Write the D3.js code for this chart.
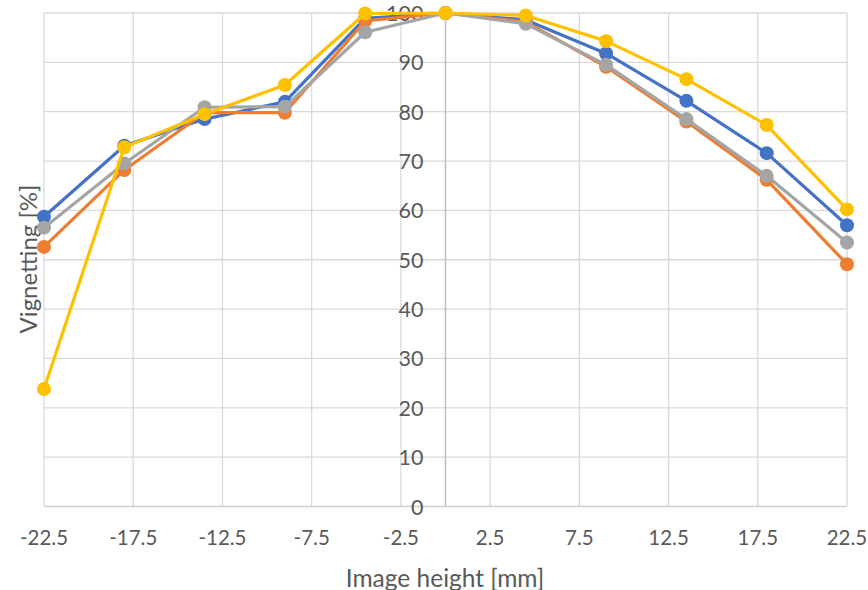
<!DOCTYPE html>
<html>
<head>
<meta charset="utf-8">
<script src="https://cdn.jsdelivr.net/npm/d3@7"></script>
<style>
  html, body { margin: 0; padding: 0; background: #fff; }
  svg { display: block; font-family: Lato, "Open Sans", sans-serif; }
</style>
</head>
<body>
<svg id="chart" width="868" height="590"></svg>
<script>
// Image height positions (mm)
const imageHeight = [-22.5, -18, -13.5, -9, -4.5, 0, 4.5, 9, 13.5, 18, 22.5];

// Vignetting (%) per series
const seriesBlue   = [58.7, 73.1, 78.5, 82.0, 98.9, 100, 98.6, 91.8, 82.2, 71.6, 57.0];
const seriesOrange = [52.6, 68.2, 79.8, 79.8, 98.4, 100, 98.2, 89.1, 78.0, 66.2, 49.1];
const seriesGray   = [56.5, 69.5, 80.9, 81.0, 96.1, 100, 97.8, 89.5, 78.5, 67.0, 53.5];
const seriesYellow = [23.8, 72.8, 79.5, 85.4, 99.9, 100, 99.5, 94.3, 86.6, 77.3, 60.2];

const seriesColors = ["#4472C4", "#ED7D31", "#A5A5A5", "#FFC000"];

// Axis ticks
const xTicks = [-22.5, -17.5, -12.5, -7.5, -2.5, 2.5, 7.5, 12.5, 17.5, 22.5];
const yTicks = [0, 10, 20, 30, 40, 50, 60, 70, 80, 90, 100];

const svg = d3.select("#chart");

const x = d3.scaleLinear().domain([-22.5, 22.5]).range([44, 847]);
const y = d3.scaleLinear().domain([0, 100]).range([506.5, 13]);

const grid = svg.append("g");

// horizontal gridlines
grid.selectAll("line.h").data(yTicks.filter(d => d > 0)).join("line")
  .attr("x1", x(-22.5)).attr("x2", x(22.5))
  .attr("y1", d => y(d)).attr("y2", d => y(d))
  .attr("stroke", "#D9D9D9").attr("stroke-width", 1.3);

// vertical gridlines
grid.selectAll("line.v").data(xTicks).join("line")
  .attr("x1", d => x(d)).attr("x2", d => x(d))
  .attr("y1", y(100)).attr("y2", y(0))
  .attr("stroke", "#D9D9D9").attr("stroke-width", 1.3);

// horizontal axis line
grid.append("line")
  .attr("x1", x(-22.5)).attr("x2", x(22.5))
  .attr("y1", y(0)).attr("y2", y(0))
  .attr("stroke", "#D0D0D0").attr("stroke-width", 1.5);

// vertical axis crossing at 0
grid.append("line")
  .attr("x1", x(0)).attr("x2", x(0))
  .attr("y1", y(100)).attr("y2", y(0))
  .attr("stroke", "#BFBFBF").attr("stroke-width", 1.5);

// x tick labels
svg.append("g").selectAll("text").data(xTicks).join("text")
  .attr("x", d => x(d)).attr("y", 537)
  .attr("text-anchor", "middle").attr("dominant-baseline", "central")
  .attr("fill", "#595959").attr("font-size", 20.5)
  .text(d => d);

// y tick labels, placed beside the axis at x = 0
svg.append("g").selectAll("text").data(yTicks).join("text")
  .attr("x", x(0) - 22).attr("y", d => y(d))
  .attr("text-anchor", "end").attr("dominant-baseline", "central")
  .attr("fill", "#595959").attr("font-size", 21.5)
  .text(d => d);

// axis titles
svg.append("text")
  .attr("x", 445).attr("y", 577)
  .attr("text-anchor", "middle").attr("dominant-baseline", "central")
  .attr("fill", "#595959").attr("font-size", 24.5)
  .text("Image height [mm]");

svg.append("text")
  .attr("transform", "translate(27,259) rotate(-90)")
  .attr("text-anchor", "middle").attr("dominant-baseline", "central")
  .attr("fill", "#595959").attr("font-size", 24)
  .text("Vignetting [%]");

// series lines and markers
const allSeries = [seriesBlue, seriesOrange, seriesGray, seriesYellow];
const line = d3.line().x((d, i) => x(imageHeight[i])).y(d => y(d));

allSeries.forEach((vals, k) => {
  const g = svg.append("g");
  g.append("path").datum(vals)
    .attr("d", line)
    .attr("fill", "none")
    .attr("stroke", seriesColors[k])
    .attr("stroke-width", 3.2)
    .attr("stroke-linejoin", "round");
  g.selectAll("circle").data(vals).join("circle")
    .attr("cx", (d, i) => x(imageHeight[i]))
    .attr("cy", d => y(d))
    .attr("r", 7)
    .attr("fill", seriesColors[k]);
});
</script>
</body>
</html>
